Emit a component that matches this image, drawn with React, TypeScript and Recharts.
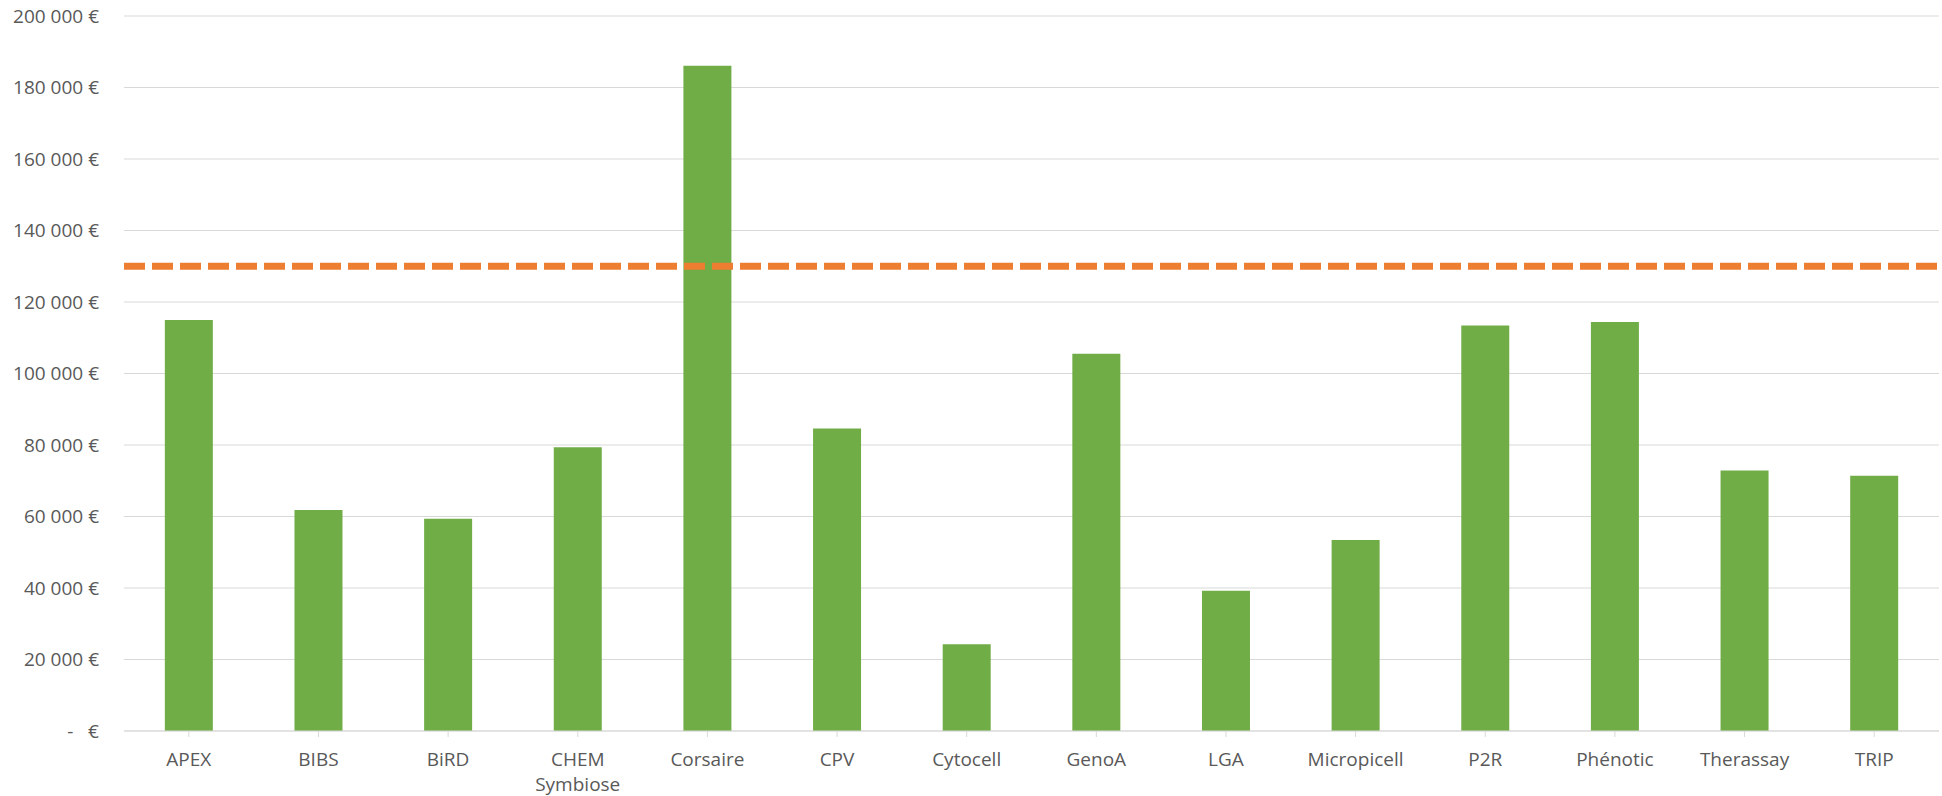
import {
  Bar,
  BarChart,
  CartesianGrid,
  ReferenceLine,
  XAxis,
  YAxis,
} from 'recharts';

const platforms = [
  'APEX',
  'BIBS',
  'BiRD',
  'CHEM Symbiose',
  'Corsaire',
  'CPV',
  'Cytocell',
  'GenoA',
  'LGA',
  'Micropicell',
  'P2R',
  'Phénotic',
  'Therassay',
  'TRIP',
];
const amounts = [
  115000, 61800, 59400, 79400, 186100, 84600, 24300, 105500, 39200, 53400, 113400,
  114400, 72900, 71400,
];
const threshold = 130000;
const yTicks = [0, 20000, 40000, 60000, 80000, 100000, 120000, 140000, 160000, 180000, 200000];

const data = platforms.map((name, i) => ({ name, amount: amounts[i] }));

const FONT = 'Open Sans, sans-serif';
const TEXT = '#595959';
const FS = 19;

function euro(v: number) {
  if (v === 0) return '-\u00a0\u00a0\u00a0€';
  const s = String(v).replace(/\B(?=(\d{3})+(?!\d))/g, '\u00a0');
  return s + '\u00a0€';
}

function CategoryTick(props: any) {
  const { x, y, payload } = props;
  const lines = String(payload.value).split(' ');
  return (
    <text x={x} y={y} textAnchor="middle" fill={TEXT} fontSize={FS} fontFamily={FONT}>
      {lines.map((l, i) => (
        <tspan key={i} x={x} dy={i === 0 ? 27 : 25}>
          {l}
        </tspan>
      ))}
    </text>
  );
}

export default function App() {
  return (
    <div style={{ position: 'absolute', left: 0, top: 0, background: '#fff' }}>
      <BarChart
        width={1942}
        height={796}
        data={data}
        margin={{ top: 16, right: 3, bottom: 0, left: 0 }}
        barCategoryGap="31.5%"
      >
        <CartesianGrid vertical={false} stroke="#d9d9d9" strokeWidth={1} />
        <XAxis
          dataKey="name"
          stroke="#d9d9d9"
          tickSize={6}
          tick={<CategoryTick />}
          interval={0}
          height={65}
        />
        <YAxis
          width={124}
          domain={[0, 200000]}
          ticks={yTicks}
          tickFormatter={euro}
          axisLine={false}
          tickLine={false}
          tickSize={0}
          tickMargin={25}
          tick={{ fill: TEXT, fontSize: FS, fontFamily: FONT }}
        />
        <Bar dataKey="amount" fill="#70ad47" isAnimationActive={false} />
        <ReferenceLine
          y={threshold}
          stroke="#ed7d31"
          strokeWidth={7}
          strokeDasharray="21 7"
        />
      </BarChart>
    </div>
  );
}
